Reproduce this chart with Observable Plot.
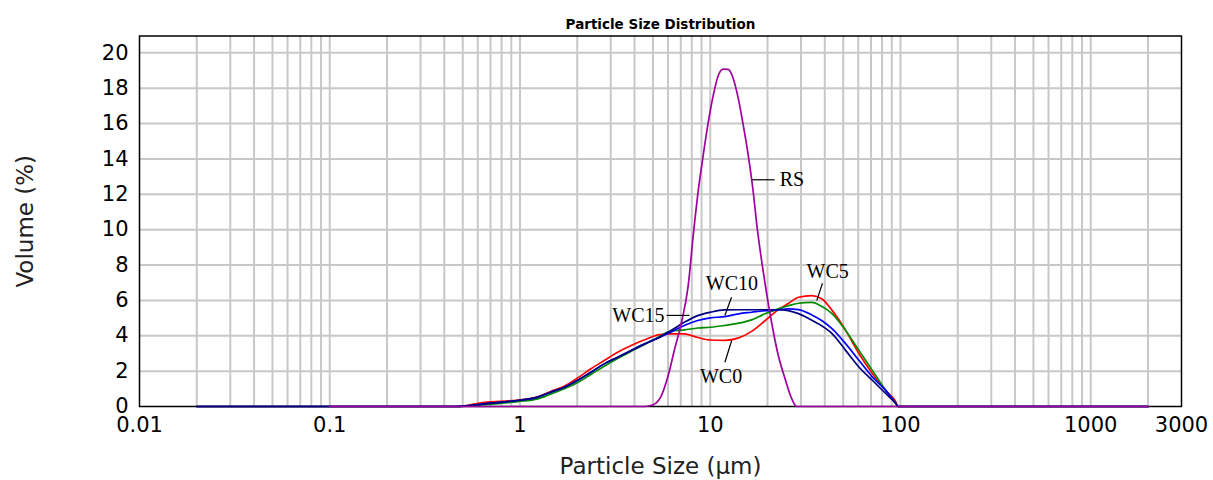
<!DOCTYPE html>
<html><head><meta charset="utf-8">
<script src="https://cdn.jsdelivr.net/npm/d3@7"></script>
<script src="https://cdn.jsdelivr.net/npm/@observablehq/plot@0.6"></script>
<style>body{margin:0;background:#fff}</style>
</head><body><div id="chart"></div>
<script>
// ---- data ----
const seriesNames = ["WC0", "WC5", "WC10", "WC15", "RS"];
const seriesColors = ["#ff0000", "#008c00", "#0000ff", "#000080", "#a000a0"];

const wcSizes = [0.02, 0.46, 0.65, 0.975, 1.24, 1.45, 1.71, 2.0, 2.36, 2.77, 3.26, 3.84, 4.52, 5.33, 6.2, 7.3, 8.6, 10.0, 11.9, 14.1, 16.5, 19.4, 22.8, 25.7, 29.1, 34.2, 38.7, 43.8, 51.6, 60.6, 71.3, 83.8, 94.7, 97, 2000];
const wc0  = [0, 0, 0.24, 0.36, 0.55, 0.85, 1.15, 1.60, 2.13, 2.60, 3.07, 3.45, 3.77, 4.05, 4.11, 4.11, 3.90, 3.76, 3.74, 3.88, 4.25, 4.85, 5.48, 5.82, 6.18, 6.27, 6.08, 5.42, 4.29, 2.98, 1.85, 0.90, 0.24, 0, 0];
const wc5  = [0, 0, 0.10, 0.28, 0.43, 0.70, 1.00, 1.34, 1.81, 2.28, 2.72, 3.12, 3.50, 3.92, 4.26, 4.33, 4.44, 4.48, 4.58, 4.71, 4.90, 5.24, 5.52, 5.70, 5.84, 5.89, 5.65, 5.24, 4.29, 3.16, 2.03, 0.90, 0.15, 0, 0];
const wc10 = [0, 0, 0.15, 0.34, 0.53, 0.81, 1.09, 1.47, 1.94, 2.41, 2.79, 3.17, 3.54, 3.88, 4.20, 4.58, 4.86, 5.01, 5.08, 5.24, 5.33, 5.42, 5.46, 5.52, 5.48, 5.18, 4.85, 4.39, 3.54, 2.60, 1.66, 0.90, 0.15, 0, 0];
const wc15 = [0, 0, 0.15, 0.34, 0.53, 0.81, 1.09, 1.47, 1.94, 2.41, 2.79, 3.17, 3.54, 3.88, 4.29, 4.76, 5.14, 5.33, 5.46, 5.47, 5.47, 5.47, 5.47, 5.42, 5.25, 4.88, 4.55, 4.11, 3.16, 2.22, 1.47, 0.72, 0.15, 0, 0];

const rsSizes = [0.1, 4.51, 5.01, 5.54, 6.01, 6.51, 7.06, 7.66, 8.17, 8.68, 9.18, 9.76, 10.37, 11.02, 11.70, 12.44, 13.21, 14.04, 14.92, 15.85, 16.84, 17.52, 19.38, 21.02, 22.79, 24.72, 26.80, 28.45, 2000];
const rsVol   = [0, 0, 0.10, 0.62, 1.75, 3.28, 4.75, 6.84, 9.84, 12.33, 14.19, 16.06, 17.59, 18.72, 19.08, 19.06, 18.55, 17.42, 15.89, 14.19, 12.10, 10.40, 7.01, 4.75, 2.88, 1.58, 0.45, 0, 0];

const xTickValues = [0.01, 0.1, 1, 10, 100, 1000];
const xEndTick = [3000];
const yTickValues = [0, 2, 4, 6, 8, 10, 12, 14, 16, 18, 20];

// annotation labels: text, leader start (on curve), leader end, label anchor point
const annText = ["RS", "WC15", "WC10", "WC0", "WC5"];
const annX1 = [16.6, 7.78, 11.94, 12.97, 36.3];
const annY1 = [12.82, 5.15, 5.15, 3.73, 5.99];
const annX2 = [21.8, 5.89, 12.94, 11.94, 38.9];
const annY2 = [12.82, 5.15, 6.18, 2.5, 6.97];
const annLX = [21.8, 5.89, 13.0, 11.4, 41.4];
const annLY = [12.82, 5.15, 6.96, 1.70, 7.63];

// ---- build tables ----
const wcValues = [wc0, wc5, wc10, wc15];
const rows = [];
wcValues.forEach((vals, i) => vals.forEach((v, j) => rows.push({series: seriesNames[i], size: wcSizes[j], vol: v})));
rsVol.forEach((v, j) => rows.push({series: "RS", size: rsSizes[j], vol: v}));

const xGrid = [];
for (let e = -2; e <= 3; e++) for (let m = 1; m <= 9; m++) {
  const v = +(m * Math.pow(10, e)).toPrecision(3);
  if (v > 0.01 && v <= 2000) xGrid.push(v);
}
const yGrid = yTickValues.filter(d => d > 0);
const ann = annText.map((t, i) => ({t, x1: annX1[i], y1: annY1[i], x2: annX2[i], y2: annY2[i], lx: annLX[i], ly: annLY[i]}));

const sans = "DejaVu Sans";
const serif = "Liberation Serif";
const gridStyle = {stroke: "#c8c8c8", strokeWidth: 2};

const chart = Plot.plot({
  width: 1213, height: 480,
  marginLeft: 139, marginRight: 32, marginTop: 35.5, marginBottom: 74,
  style: {background: "white", color: "black"},
  x: {type: "log", domain: [0.01, 3000]},
  y: {domain: [0, 20.95]},
  color: {domain: seriesNames, range: seriesColors},
  marks: [
    Plot.ruleX(xGrid, gridStyle),
    Plot.ruleY(yGrid, gridStyle),
    Plot.frame({stroke: "black", strokeWidth: 1.5}),
    Plot.axisX(xTickValues, {tickSize: 0, tickPadding: 11, tickFormat: d => String(d), fontSize: 21, fontFamily: sans, label: null, fill: "black"}),
    Plot.text(xEndTick, {x: d => d, frameAnchor: "bottom", lineAnchor: "top", dy: 11, text: d => String(d), fontSize: 21, fontFamily: sans, fill: "black"}),
    Plot.axisY(yTickValues, {tickSize: 0, tickPadding: 11, fontSize: 21, fontFamily: sans, label: null, fill: "black"}),
    Plot.line(rows, {x: "size", y: "vol", z: "series", stroke: "series", strokeWidth: 1.7, curve: "monotone-x"}),
    Plot.link(ann, {x1: "x1", y1: "y1", x2: "x2", y2: "y2", stroke: "black", strokeWidth: 1.2}),
    Plot.text(ann.filter(d => d.t === "RS"), {x: "lx", y: "ly", text: "t", textAnchor: "start", dx: 5, fontSize: 20, fontFamily: serif, fill: "black"}),
    Plot.text(ann.filter(d => d.t === "WC15"), {x: "lx", y: "ly", text: "t", textAnchor: "end", dx: -2, fontSize: 20, fontFamily: serif, fill: "black"}),
    Plot.text(ann.filter(d => d.t !== "RS" && d.t !== "WC15"), {x: "lx", y: "ly", text: "t", textAnchor: "middle", fontSize: 20, fontFamily: serif, fill: "black"}),
    Plot.text(["Particle Size Distribution"], {frameAnchor: "top", lineAnchor: "middle", dy: -11, fontSize: 13.5, fontWeight: "bold", fontFamily: sans, fill: "black"}),
    Plot.text(["Particle Size (µm)"], {frameAnchor: "bottom", lineAnchor: "middle", dy: 60, fontSize: 23, fontFamily: sans, fill: "#222"}),
    Plot.text(["Volume (%)"], {frameAnchor: "left", textAnchor: "middle", lineAnchor: "middle", dx: -114, rotate: -90, fontSize: 23, fontFamily: sans, fill: "#222"})
  ]
});
document.getElementById("chart").appendChild(chart);
</script>
</body></html>
